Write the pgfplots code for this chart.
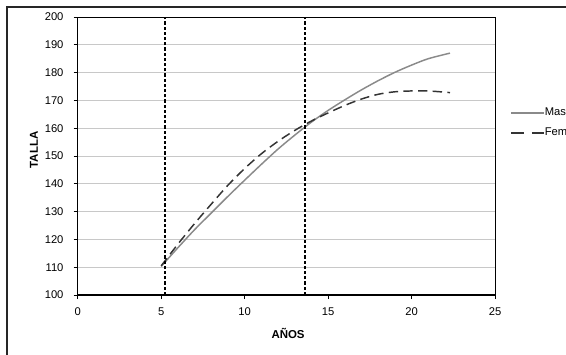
\documentclass[border=0pt]{standalone}
\usepackage{fontspec}
\setmainfont{Liberation Sans}
\usepackage{pgfplots}
\pgfplotsset{compat=1.18}
\definecolor{mascol}{HTML}{8A8A8A}
\definecolor{femcol}{HTML}{333333}
\definecolor{gridcol}{HTML}{C8C8C8}
\begin{document}
\begin{tikzpicture}
\useasboundingbox (0,0) rectangle (424.5pt,265.5pt);
\clip (0,0) rectangle (424.5pt,265.5pt);
\draw[black!85, line width=0.8pt] (5.25pt,-5pt) rectangle (450pt,260.25pt);
\begin{axis}[
  at={(58.3pt,44.25pt)}, anchor=south west,
  width=313pt, height=208.5pt, scale only axis,
  xmin=0, xmax=25, ymin=100, ymax=200,
  xtick={0,5,...,25}, ytick={100,110,...,200},
  tick pos=left, tick align=outside,
  major tick length=3pt,
  tick style={black, line width=0.6pt},
  axis line style={black, line width=0.7pt},
  ymajorgrids, major grid style={gridcol, line width=0.6pt},
  /pgf/number format/assume math mode=true,
  ticklabel style={font=\fontsize{8.4pt}{9.5pt}\selectfont},
  xticklabel style={anchor=north, inner sep=0pt, yshift=-6.1pt},
  yticklabel style={anchor=east, inner sep=0pt, xshift=-7.5pt},
  xlabel={AÑOS}, ylabel={TALLA},
  label style={font=\bfseries\fontsize{8.6pt}{10pt}\selectfont},
  xlabel style={at={(axis description cs:0.504,-0.1367)}, anchor=center, inner sep=0pt},
  ylabel style={at={(axis description cs:-0.1048,0.5216)}, anchor=center, inner sep=0pt, rotate=0},
  legend image code/.code={\draw[#1] (0pt,0pt) -- (24.75pt,0pt);},
  legend style={draw=none, fill=none, at={(axis description cs:1.036,0.619)}, anchor=west,
    inner sep=0pt, row sep=7.2pt, font=\fontsize{8.4pt}{9.5pt}\selectfont,
    nodes={inner sep=0pt, text height=6pt, text depth=1.8pt},
    /tikz/every even column/.append style={column sep=1.5pt}},
  legend cell align=left,
]
\addplot[mascol, line width=1.1pt, smooth] coordinates {
(5,110.3) (6,117) (7,123.5) (8,129.5) (9,135.5) (10,141.3) (11,147) (12,152.5)
(13,157.5) (14,162.2) (15,166.4) (16,170.2) (17,173.8) (18,177.1) (19,180.1)
(20,182.7) (21,185) (22.3,187)};
\addlegendentry{Masculino}
\addplot[femcol, line width=1.1pt, smooth, dash pattern=on 7pt off 4pt,
  legend image post style={dash pattern=on 10pt off 5.5pt}] coordinates {
(5,110.5) (6,118.3) (7,125.7) (8,132.7) (9,139.5) (10,145.5) (11,150.8) (12,155.3)
(13,159.2) (14,162.6) (15,165.5) (16,168.2) (17,170.5) (18,172.2) (19,173.1)
(20,173.4) (21,173.4) (22.3,172.8)};
\addlegendentry{Femenino}
\addplot[black, line width=1.3pt, dash pattern=on 2.4pt off 1.5pt, forget plot] coordinates {(5.22,100) (5.22,200)};
\addplot[black, line width=1.3pt, dash pattern=on 2.4pt off 1.5pt, forget plot] coordinates {(13.62,100) (13.62,200)};
\draw[black, line width=1.3pt] (rel axis cs:0,0) -- (rel axis cs:1,0);
\end{axis}
\end{tikzpicture}
\end{document}
